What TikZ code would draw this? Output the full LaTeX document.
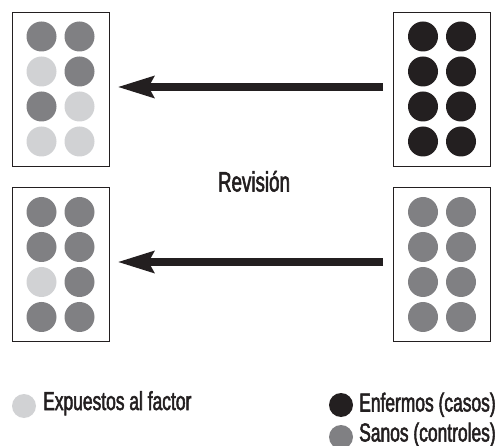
\documentclass[tikz,border=0pt]{standalone}
\usepackage{fontspec}
\setmainfont[FakeStretch=0.67,BoldFont={Liberation Sans},BoldFeatures={FakeBold=2,FakeStretch=0.67}]{Liberation Sans}
\usetikzlibrary{arrows.meta,calc}
\definecolor{ink}{HTML}{231F20}
\definecolor{dk}{HTML}{808083}
\definecolor{lt}{HTML}{D1D2D4}
\newcommand\dotgrid[2]{%
  \foreach \col [count=\k from 0] in {#2} {
    \pgfmathtruncatemacro\rr{int(\k/2)}
    \pgfmathtruncatemacro\cc{mod(\k,2)}
    \node[dot, fill=\col] (#1-\k) at ($(#1)+(\cc*38-19,\rr*35-52.5)$) {};
  }}
\begin{document}
\begin{tikzpicture}[x=1pt,y=-1pt,
  box/.style={draw=ink, line width=0.9pt, minimum width=97pt, minimum height=154pt, inner sep=0pt},
  dot/.style={circle, minimum size=30pt, inner sep=0pt},
  ldot/.style={circle, minimum size=24pt, inner sep=0pt},
  arr/.style={line width=8pt, draw=ink, -{Stealth[length=36pt, width=21pt, inset=5pt]}},
  lab/.style={font=\bfseries\fontsize{26}{30}\selectfont, text=ink, anchor=base west, inner sep=0pt}]
\useasboundingbox (0,0) rectangle (498,446);
% boxes
\node[box] (tl) at (60.5,89) {};
\node[box] (tr) at (442,89) {};
\node[box] (bl) at (60.5,264.5) {};
\node[box] (br) at (442,264.5) {};
% dots
\dotgrid{tl}{dk,dk,lt,dk,dk,lt,lt,lt}
\dotgrid{tr}{ink,ink,ink,ink,ink,ink,ink,ink}
\dotgrid{bl}{dk,dk,dk,dk,lt,dk,dk,dk}
\dotgrid{br}{dk,dk,dk,dk,dk,dk,dk,dk}
% arrows
\coordinate (a1s) at ($(tr.west)+(-10,-2)$);
\coordinate (a1e) at ($(tl.east)+(8,-2)$);
\coordinate (a2s) at ($(br.west)+(-10,-2.5)$);
\coordinate (a2e) at ($(bl.east)+(8,-2.5)$);
\draw[arr] (a1s) -- (a1e);
\draw[arr] (a2s) -- (a2e);
% label
\node[font=\bfseries\fontsize{28}{32}\selectfont, text=ink, anchor=base, inner sep=0pt] (rev) at (254,191.5) {Revisión};
% legend
\node[ldot, fill=lt] (lg1) at (24,406) {};
\node[lab] (lt1) at (43,410) {Expuestos al factor};
\node[ldot, fill=ink] (lg2) at (341,405) {};
\node[lab] (lt2) at (359,411.5) {Enfermos (casos)};
\node[ldot, fill=dk] (lg3) at (341,437) {};
\node[lab] (lt3) at (359,441.5) {Sanos (controles)};
\end{tikzpicture}
\end{document}
